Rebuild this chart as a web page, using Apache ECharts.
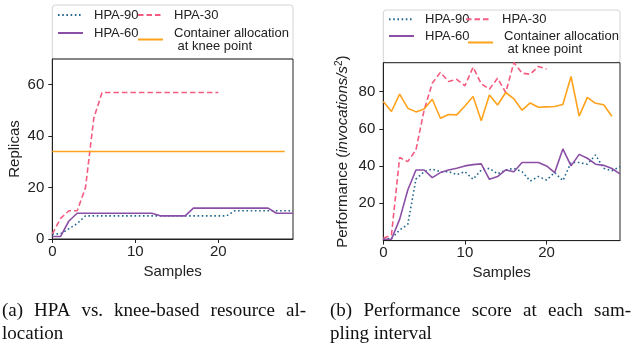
<!DOCTYPE html>
<html>
<head>
<meta charset="utf-8">
<script src="https://cdn.jsdelivr.net/npm/echarts@6/dist/echarts.min.js"></script>
<style>html,body{margin:0;padding:0;background:#fff}#c{width:636px;height:348px}</style>
</head>
<body>
<div id="c"></div>
<script>
// ---------- data ----------
const samples = [0,1,2,3,4,5,6,7,8,9,10,11,12,13,14,15,16,17,18,19,20,21,22,23,24,25,26,27,28,29];
// (a) replicas
const hpa90Replicas = [2,2,4,6,9,9,9,9,9,9,9,9,9,9,9,9,9,9,9,9,9,9,11,11,11,11,11,11,11,11];
const hpa30Replicas = [2,8,11,11,20,47,57,57,57,57,57,57,57,57,57,57,57,57,57,57,57];
const hpa60Replicas = [1,1,7,10,10,10,10,10,10,10,10,10,10,9,9,9,9,12,12,12,12,12,12,12,12,12,12,10,10,10];
const kneeReplicas  = [34,34,34,34,34,34,34,34,34,34,34,34,34,34,34,34,34,34,34,34,34,34,34,34,34,34,34,34,34];
// (b) performance
const hpa90Perf = [0.7,1.2,5.7,8.7,33,37,38.4,37,37,35.4,37,32.9,37.9,38.8,35.8,37.9,38.8,37,32,34.4,32.5,36.5,32.2,41.9,41.9,41,46,38.8,37.5,39.7];
const hpa30Perf = [1.2,3,44.6,42.4,48.7,70,84.5,90.3,85.4,86.6,83.1,93.1,84.2,81.3,87.2,79.5,95.6,89.9,89.3,93.5,92.1];
const hpa60Perf = [0.7,0.7,11.4,27.2,37.9,37.9,33.8,36.5,37.9,38.8,40.1,40.8,41.2,32.9,34.4,37.9,37,41.9,41.9,41.9,40.1,36.5,49.2,40.1,46.3,44.2,41,40.4,38.7,35.8];
const kneePerf  = [74.7,69.3,78.6,71.1,69.1,70.7,75.9,65.7,67.7,67.5,72.3,77.4,64.4,78.2,72.8,79.5,76.1,70,73.9,71.6,71.8,72,73.1,88.1,66.8,76.9,73.7,72.9,66.8];
// ticks
const xTicks = [0,10,20];
const yTicksA = [0,20,40,60];
const yTicksB = [20,40,60,80];
const seriesNames = ['HPA-90','HPA-30','HPA-60','Container allocation at knee point'];
const captionA = ['(a) HPA vs. knee-based resource al-', 'location'];
const captionB = ['(b) Performance score at each sam-', 'pling interval'];

// ---------- styles ----------
const FONT = '"Liberation Sans", Arial, sans-serif';
const TXT = '#222';
const styles = [
  {color:'#23678e', type:[1.6,2.6], width:1.6},
  {color:'#f45b80', type:[5.5,3], width:1.6},
  {color:'#8b4fa6', type:'solid', width:1.6},
  {color:'#ffa21c', type:'solid', width:1.6}
];
const pair = arr => arr.map((v,i)=>[samples[i], v]);

function mkSeries(dataArr, gi){
  return dataArr.map((d,k)=>({
    type:'line', name:seriesNames[k], xAxisIndex:gi, yAxisIndex:gi,
    data:pair(d), symbol:'none', showSymbol:false, animation:false,
    lineStyle:{color:styles[k].color, type:styles[k].type, width:styles[k].width},
    itemStyle:{color:styles[k].color}, z: 3
  }));
}

function xAx(gi){
  return {
    type:'value', gridIndex:gi, min:0, max:29,
    name:'Samples', nameLocation:'middle', nameGap:24,
    nameTextStyle:{fontFamily:FONT, fontSize:15, color:TXT},
    axisLine:{show:true, lineStyle:{color:TXT, width:1}},
    axisTick:{show:true, inside:false, length:4, customValues:xTicks, lineStyle:{color:TXT}},
    axisLabel:{fontFamily:FONT, fontSize:15, color:TXT, margin:5, customValues:xTicks},
    splitLine:{show:false}
  };
}

const grids = [
  {left:52.3, top:59, width:240.7, height:180, show:true, borderColor:TXT, borderWidth:1},
  {left:383.3, top:62.7, width:236.7, height:177.9, show:true, borderColor:TXT, borderWidth:1}
];

const yAxes = [
  {
    type:'value', gridIndex:0, min:0, max:70,
    name:'Replicas', nameLocation:'middle', nameGap:30,
    nameTextStyle:{fontFamily:FONT, fontSize:15, color:TXT},
    axisLine:{show:true, lineStyle:{color:TXT}},
    axisTick:{show:true, length:4, customValues:yTicksA, lineStyle:{color:TXT}},
    axisLabel:{fontFamily:FONT, fontSize:15, color:TXT, margin:8, customValues:yTicksA},
    splitLine:{show:false}
  },
  {
    type:'value', gridIndex:1, min:0, max:95.5,
    name:'{n|Performance (}{i|invocations/s}{s|2}{n|)}', nameLocation:'middle', nameGap:31,
    nameTextStyle:{fontFamily:FONT, fontSize:15, color:TXT,
      rich:{
        n:{fontFamily:FONT, fontSize:15, color:TXT, lineHeight:18},
        i:{fontFamily:FONT, fontSize:15, fontStyle:'italic', color:TXT, lineHeight:18},
        s:{fontFamily:FONT, fontSize:10, color:TXT, lineHeight:18, verticalAlign:'top', padding:[0,0,6,0]}
      }},
    axisLine:{show:true, lineStyle:{color:TXT}},
    axisTick:{show:true, length:4, customValues:yTicksB, lineStyle:{color:TXT}},
    axisLabel:{fontFamily:FONT, fontSize:15, color:TXT, margin:8, customValues:yTicksB},
    splitLine:{show:false}
  }
];

function leg(name, left, top){
  return {
    data:[name], left:left, top:top, padding:0, orient:'vertical',
    itemWidth:25, itemHeight:10, selectedMode:false,
    itemStyle:{opacity:0, borderWidth:0},
    formatter: n => n === 'Container allocation at knee point' ? 'Container allocation\n at knee point' : n,
    textStyle:{fontFamily:FONT, fontSize:13, lineHeight:13, color:TXT, padding:[0,0,0,6]}
  };
}
const legends = [
  leg(seriesNames[0], 57, 8.5), leg(seriesNames[1], 137, 8.5),
  leg(seriesNames[2], 57, 26.5), leg(seriesNames[3], 137, 26.5),
  leg(seriesNames[0], 388, 12.8), leg(seriesNames[1], 465, 12.8),
  leg(seriesNames[2], 388, 29.5), leg(seriesNames[3], 467, 29.5)
];

// caption, justified like the paper
const SERIF = '19px "Liberation Serif", "Times New Roman", serif';
const ctx = document.createElement('canvas').getContext('2d');
ctx.font = SERIF;
function justifiedLine(text, x0, x1, y){
  const words = text.split(' ');
  const widths = words.map(w=>ctx.measureText(w).width);
  const total = widths.reduce((a,b)=>a+b,0);
  const gap = (x1 - x0 - total) / (words.length - 1);
  const out = []; let x = x0;
  words.forEach((w,i)=>{
    out.push({type:'text', x:x, y:y, silent:true, style:{text:w, font:SERIF, fill:'#111', verticalAlign:'middle'}});
    x += widths[i] + gap;
  });
  return out;
}
function plainLine(text, x0, y){
  return [{type:'text', x:x0, y:y, silent:true, style:{text:text, font:SERIF, fill:'#111', verticalAlign:'middle'}}];
}
const graphics = [
  {type:'rect', shape:{x:52.3, y:5, width:240.7, height:54, r:3}, style:{fill:'#fff', stroke:'#d4d4d4', lineWidth:1}, z:-1, silent:true},
  {type:'rect', shape:{x:383.3, y:10, width:236.7, height:52.7, r:3}, style:{fill:'#fff', stroke:'#d4d4d4', lineWidth:1}, z:-1, silent:true}
].concat(
  justifiedLine(captionA[0], 2, 306, 311),
  plainLine(captionA[1], 2, 334),
  justifiedLine(captionB[0], 330, 631, 311),
  plainLine(captionB[1], 330, 334)
);

const chart = echarts.init(document.getElementById('c'), null, {renderer:'canvas'});
chart.setOption({
  animation:false,
  backgroundColor:'#fff',
  grid:grids,
  xAxis:[xAx(0), xAx(1)],
  yAxis:yAxes,
  legend:legends,
  graphic:graphics,
  series: mkSeries([hpa90Replicas, hpa30Replicas, hpa60Replicas, kneeReplicas], 0)
    .concat(mkSeries([hpa90Perf, hpa30Perf, hpa60Perf, kneePerf], 1))
});
</script>
</body>
</html>
